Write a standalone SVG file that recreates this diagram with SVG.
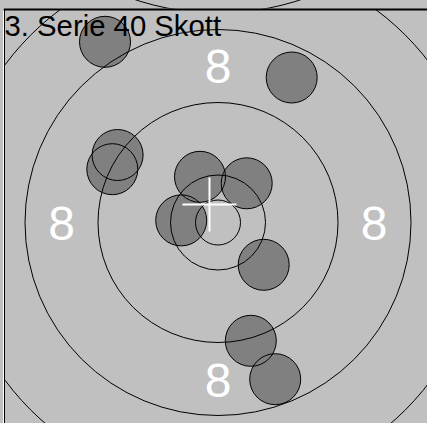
<svg xmlns="http://www.w3.org/2000/svg" xmlns:xlink="http://www.w3.org/1999/xlink" width="427" height="423" viewBox="0 0 427 423">
  <style>
    .ring { fill: none; stroke: #000; stroke-width: 1; }
    .label { font-family: "Liberation Sans", Arial, sans-serif; font-size: 48px; fill: #fff; text-anchor: middle; }
    .title { font-family: "Liberation Sans", Arial, sans-serif; font-size: 29.3px; fill: #000; }
    .cross { stroke: #fff; stroke-width: 2; }
  </style>
  <defs>
    <clipPath id="panelClip"><rect x="5" y="10" width="422" height="413"/></clipPath>
    <clipPath id="topClip"><rect x="0" y="0" width="427" height="8.5"/></clipPath>
    <circle id="s1" cx="105" cy="41.8" r="25.5"/>
    <circle id="s2" cx="291.7" cy="77.5" r="25.5"/>
    <circle id="s3" cx="117.6" cy="155" r="25.5"/>
    <circle id="s4" cx="112.3" cy="169.2" r="25.5"/>
    <circle id="s5" cx="200" cy="176.8" r="25.5"/>
    <circle id="s6" cx="246.7" cy="183.3" r="25.5"/>
    <circle id="s7" cx="181.2" cy="220.4" r="25.5"/>
    <circle id="s8" cx="263.7" cy="264.8" r="25.5"/>
    <circle id="s9" cx="250.8" cy="340.8" r="25.5"/>
    <circle id="s10" cx="275.2" cy="379.2" r="25.5"/>
  </defs>
  <rect x="0" y="0" width="427" height="423" fill="#c0c0c0"/>
  <!-- previous panel remnant -->
  <g id="previous" clip-path="url(#topClip)">
    <circle class="ring" cx="218" cy="-252" r="265"/>
  </g>
  <g id="panel" clip-path="url(#panelClip)">
    <g id="shots-fill" fill="#808080" stroke="none">
      <use xlink:href="#s1"/><use xlink:href="#s2"/><use xlink:href="#s3"/><use xlink:href="#s4"/><use xlink:href="#s5"/>
      <use xlink:href="#s6"/><use xlink:href="#s7"/><use xlink:href="#s8"/><use xlink:href="#s9"/><use xlink:href="#s10"/>
    </g>
    <g id="shots-outline" fill="none" stroke="#000" stroke-width="1">
      <use xlink:href="#s1"/><use xlink:href="#s2"/><use xlink:href="#s3"/><use xlink:href="#s4"/><use xlink:href="#s5"/>
      <use xlink:href="#s6"/><use xlink:href="#s7"/><use xlink:href="#s8"/><use xlink:href="#s9"/><use xlink:href="#s10"/>
    </g>
    <g id="rings">
      <circle class="ring" cx="218" cy="222.5" r="22.5"/>
      <circle class="ring" cx="218" cy="222.5" r="47.5"/>
      <circle class="ring" cx="218" cy="222.5" r="120"/>
      <circle class="ring" cx="218" cy="222.5" r="193"/>
      <circle class="ring" cx="218" cy="222.5" r="265"/>
    </g>
    <g id="crosshair" class="cross">
      <line x1="182.5" y1="204.5" x2="236.5" y2="204.5"/>
      <line x1="209.5" y1="177.5" x2="209.5" y2="231.5"/>
    </g>
    <g id="labels">
      <text class="label" x="218" y="82.7">8</text>
      <text class="label" x="61.7" y="240">8</text>
      <text class="label" x="374.2" y="240">8</text>
      <text class="label" x="218" y="397.3">8</text>
    </g>
    <text class="title" x="4.5" y="36">3. Serie 40 Skott</text>
  </g>
  <g id="frame">
    <line x1="3.5" y1="8" x2="3.5" y2="423" stroke="#fff" stroke-width="1"/>
    <line x1="3.5" y1="9.5" x2="427" y2="9.5" stroke="#000" stroke-width="2"/>
    <line x1="4.5" y1="9" x2="4.5" y2="423" stroke="#000" stroke-width="1"/>
  </g>
</svg>
